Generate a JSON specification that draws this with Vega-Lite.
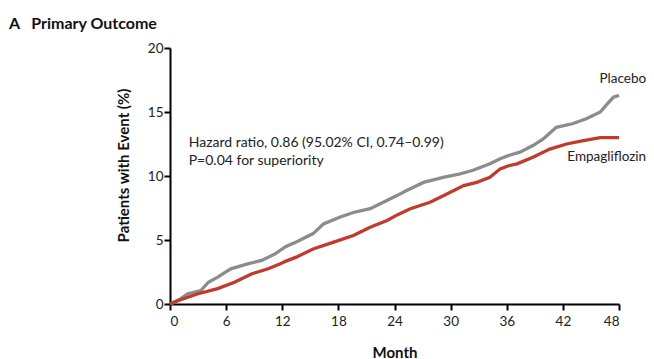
{
  "$schema": "https://vega.github.io/schema/vega-lite/v6.json",
  "width": 449,
  "height": 256,
  "autosize": {"type": "none"},
  "padding": {"left": 170, "top": 48, "right": 35, "bottom": 55},
  "background": "white",
  "config": {
    "view": {"stroke": null},
    "font": "Lato",
    "axis": {"grid": false}
  },
  "title": {
    "text": "A\u00a0\u00a0\u00a0Primary Outcome",
    "anchor": "start",
    "frame": "group",
    "dx": -161,
    "dy": 24,
    "fontSize": 16,
    "fontWeight": "bold",
    "font": "Lato",
    "color": "#111",
    "baseline": "alphabetic",
    "offset": 20
  },
  "datasets": {
    "curves": [
      {"month": 0, "pct": 0, "arm": "Placebo"},
      {"month": 1.0, "pct": 0.35, "arm": "Placebo"},
      {"month": 1.9, "pct": 0.8, "arm": "Placebo"},
      {"month": 3.3, "pct": 1.05, "arm": "Placebo"},
      {"month": 4.1, "pct": 1.7, "arm": "Placebo"},
      {"month": 5.1, "pct": 2.1, "arm": "Placebo"},
      {"month": 6.5, "pct": 2.75, "arm": "Placebo"},
      {"month": 8.3, "pct": 3.14, "arm": "Placebo"},
      {"month": 9.8, "pct": 3.4, "arm": "Placebo"},
      {"month": 11.2, "pct": 3.9, "arm": "Placebo"},
      {"month": 12.4, "pct": 4.5, "arm": "Placebo"},
      {"month": 13.5, "pct": 4.85, "arm": "Placebo"},
      {"month": 15.3, "pct": 5.5, "arm": "Placebo"},
      {"month": 16.4, "pct": 6.25, "arm": "Placebo"},
      {"month": 18.2, "pct": 6.8, "arm": "Placebo"},
      {"month": 19.6, "pct": 7.15, "arm": "Placebo"},
      {"month": 21.4, "pct": 7.45, "arm": "Placebo"},
      {"month": 22.8, "pct": 7.95, "arm": "Placebo"},
      {"month": 24.2, "pct": 8.45, "arm": "Placebo"},
      {"month": 25.3, "pct": 8.87, "arm": "Placebo"},
      {"month": 27.1, "pct": 9.5, "arm": "Placebo"},
      {"month": 29.2, "pct": 9.9, "arm": "Placebo"},
      {"month": 31.0, "pct": 10.17, "arm": "Placebo"},
      {"month": 32.4, "pct": 10.45, "arm": "Placebo"},
      {"month": 34.2, "pct": 10.95, "arm": "Placebo"},
      {"month": 35.3, "pct": 11.35, "arm": "Placebo"},
      {"month": 36.2, "pct": 11.6, "arm": "Placebo"},
      {"month": 37.4, "pct": 11.86, "arm": "Placebo"},
      {"month": 38.8, "pct": 12.38, "arm": "Placebo"},
      {"month": 39.9, "pct": 12.9, "arm": "Placebo"},
      {"month": 41.3, "pct": 13.8, "arm": "Placebo"},
      {"month": 43.1, "pct": 14.1, "arm": "Placebo"},
      {"month": 44.5, "pct": 14.47, "arm": "Placebo"},
      {"month": 46.0, "pct": 15.0, "arm": "Placebo"},
      {"month": 46.7, "pct": 15.6, "arm": "Placebo"},
      {"month": 47.4, "pct": 16.15, "arm": "Placebo"},
      {"month": 48, "pct": 16.3, "arm": "Placebo"},
      {"month": 0, "pct": 0, "arm": "Empagliflozin"},
      {"month": 0.9, "pct": 0.27, "arm": "Empagliflozin"},
      {"month": 3.0, "pct": 0.8, "arm": "Empagliflozin"},
      {"month": 5.1, "pct": 1.2, "arm": "Empagliflozin"},
      {"month": 6.9, "pct": 1.7, "arm": "Empagliflozin"},
      {"month": 8.7, "pct": 2.35, "arm": "Empagliflozin"},
      {"month": 10.5, "pct": 2.75, "arm": "Empagliflozin"},
      {"month": 11.8, "pct": 3.15, "arm": "Empagliflozin"},
      {"month": 12.4, "pct": 3.35, "arm": "Empagliflozin"},
      {"month": 13.5, "pct": 3.66, "arm": "Empagliflozin"},
      {"month": 15.3, "pct": 4.3, "arm": "Empagliflozin"},
      {"month": 17.5, "pct": 4.83, "arm": "Empagliflozin"},
      {"month": 19.6, "pct": 5.35, "arm": "Empagliflozin"},
      {"month": 21.4, "pct": 6.0, "arm": "Empagliflozin"},
      {"month": 23.2, "pct": 6.52, "arm": "Empagliflozin"},
      {"month": 24.4, "pct": 7.0, "arm": "Empagliflozin"},
      {"month": 25.7, "pct": 7.44, "arm": "Empagliflozin"},
      {"month": 27.8, "pct": 7.95, "arm": "Empagliflozin"},
      {"month": 29.6, "pct": 8.6, "arm": "Empagliflozin"},
      {"month": 31.4, "pct": 9.25, "arm": "Empagliflozin"},
      {"month": 32.8, "pct": 9.5, "arm": "Empagliflozin"},
      {"month": 34.2, "pct": 9.9, "arm": "Empagliflozin"},
      {"month": 35.3, "pct": 10.56, "arm": "Empagliflozin"},
      {"month": 36.2, "pct": 10.8, "arm": "Empagliflozin"},
      {"month": 37.1, "pct": 10.95, "arm": "Empagliflozin"},
      {"month": 38.8, "pct": 11.47, "arm": "Empagliflozin"},
      {"month": 40.6, "pct": 12.1, "arm": "Empagliflozin"},
      {"month": 42.4, "pct": 12.5, "arm": "Empagliflozin"},
      {"month": 44.2, "pct": 12.77, "arm": "Empagliflozin"},
      {"month": 46.0, "pct": 13.0, "arm": "Empagliflozin"},
      {"month": 48, "pct": 13.0, "arm": "Empagliflozin"}
    ],
    "notes": [
      {"month": 2.0, "pct": 12.55, "label": "Hazard ratio, 0.86 (95.02% CI, 0.74\u20130.99)"},
      {"month": 2.0, "pct": 11.2, "label": "P=0.04 for superiority"}
    ],
    "armLabels": [
      {"month": 50.9, "pct": 17.55, "label": "Placebo"},
      {"month": 50.9, "pct": 11.45, "label": "Empagliflozin"}
    ]
  },
  "layer": [
    {
      "data": {"name": "curves"},
      "mark": {"type": "line", "strokeWidth": 3.3, "interpolate": "linear", "clip": false},
      "encoding": {
        "x": {
          "field": "month", "type": "quantitative",
          "scale": {"domain": [0, 48], "nice": false, "zero": false},
          "axis": {
            "values": [0, 6, 12, 18, 24, 30, 36, 42, 48],
            "title": "Month",
            "titleFontSize": 15, "titleFontWeight": "bold", "titleColor": "#111",
            "titleBaseline": "alphabetic", "titleY": 53,
            "labelFontSize": 13.5, "labelColor": "#222", "labelPadding": 4,
            "domainColor": "#000", "domainWidth": 2,
            "tickColor": "#000", "tickWidth": 2, "tickSize": 6
          }
        },
        "y": {
          "field": "pct", "type": "quantitative",
          "scale": {"domain": [0, 20], "nice": false},
          "axis": {
            "values": [0, 5, 10, 15, 20],
            "title": "Patients with Event (%)",
            "titleFontSize": 15, "titleFontWeight": "bold", "titleColor": "#111",
            "titleX": -47, "titleY": 117, "titleAlign": "center", "titleBaseline": "middle", "titleAngle": -90,
            "labelFontSize": 13.5, "labelColor": "#222", "labelPadding": 1,
            "domainColor": "#000", "domainWidth": 2,
            "tickColor": "#000", "tickWidth": 2, "tickSize": 6
          }
        },
        "color": {
          "field": "arm", "type": "nominal",
          "scale": {"domain": ["Placebo", "Empagliflozin"], "range": ["#8c8c8c", "#c23a2b"]},
          "legend": null
        },
        "detail": {"field": "arm"}
      }
    },
    {
      "data": {"name": "notes"},
      "mark": {"type": "text", "align": "left", "baseline": "middle", "fontSize": 14, "color": "#222", "clip": false},
      "encoding": {
        "x": {"field": "month", "type": "quantitative"},
        "y": {"field": "pct", "type": "quantitative"},
        "text": {"field": "label"}
      }
    },
    {
      "data": {"name": "armLabels"},
      "mark": {"type": "text", "align": "right", "baseline": "middle", "fontSize": 13.5, "color": "#222", "clip": false},
      "encoding": {
        "x": {"field": "month", "type": "quantitative"},
        "y": {"field": "pct", "type": "quantitative"},
        "text": {"field": "label"}
      }
    }
  ]
}
